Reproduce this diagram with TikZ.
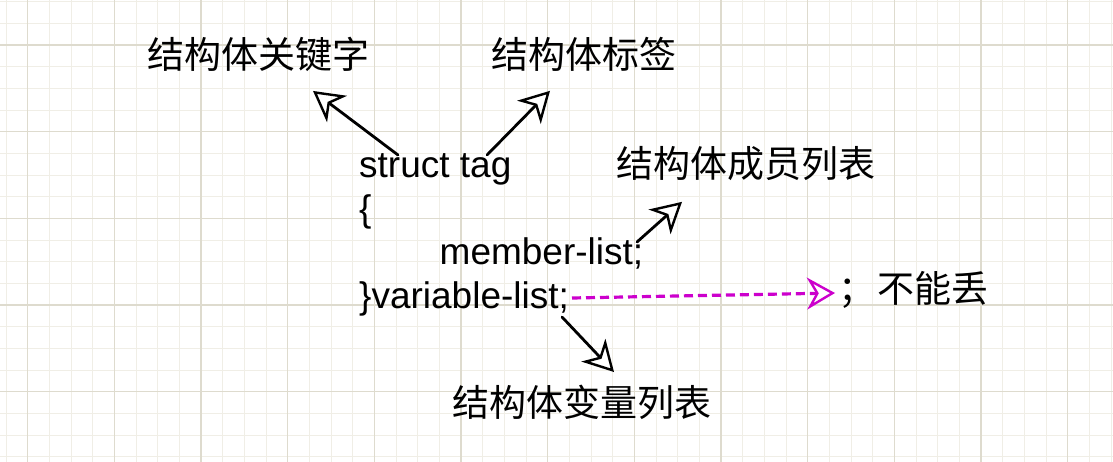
\documentclass[tikz,border=0pt]{standalone}
\usepackage{fontspec}
\setmainfont{Liberation Sans}
\newfontfamily\cjk{Noto Sans CJK SC}
\usetikzlibrary{arrows.meta,calc,positioning}

\definecolor{minorgrid}{RGB}{240,238,230}
\definecolor{majorgrid}{RGB}{222,219,206}
\definecolor{dropmag}{RGB}{204,0,204}

\newcommand{\codefont}{\fontsize{37}{43}\selectfont}
\newcommand{\labfont}{\cjk\fontsize{37}{43}\selectfont}

\tikzset{
  codeline/.style={anchor=base west, inner sep=0pt, font=\codefont},
  cnlabel/.style={inner sep=0pt, font=\labfont},
  sketcharr/.style={line width=2.8pt, line cap=round,
    -{Stealth[open, length=30pt, width=33pt, inset=9pt, line width=2.4pt]}},
  dasharr/.style={line width=3.2pt, dropmag, dash pattern=on 9pt off 5pt,
    -{Stealth[open, length=28pt, width=32pt, inset=9pt, line width=2.4pt]}}
}

\begin{document}
\begin{tikzpicture}[x=1pt,y=-1pt]

% ================= BACKGROUND: GRID =================
\fill[white] (0,0) rectangle (1113,462);
\useasboundingbox (0,0) rectangle (1113,462);

\foreach \i in {0,...,51}
  \draw[minorgrid, line width=1pt] ({6+21.667*\i},0) -- ({6+21.667*\i},462);
\foreach \j in {0,...,21}
  \draw[minorgrid, line width=1pt] (0,{1.67+21.667*\j}) -- (1113,{1.67+21.667*\j});
\foreach \i in {0,...,12}
  \draw[majorgrid, line width=1.2pt] ({27.7+86.667*\i},0) -- ({27.7+86.667*\i},462);
\foreach \j in {0,...,5}
  \draw[majorgrid, line width=1.2pt] (0,{45+86.667*\j}) -- (1113,{45+86.667*\j});

% ================= CODE =================
\node[codeline] (tag) at (359,178) {struct tag};
\node[codeline] (lbrace) at (359,221.5) {\{};
\node[codeline] (member) at (439.5,265) {member-list;};
\node[codeline] (varlist) at (359,308.5) {\}variable-list;};

% ================= LABELS =================
\node[cnlabel] (kw) at (258.5,54.5) {结构体关键字};
\node[cnlabel] (taglab) at (584,54.5) {结构体标签};
\node[cnlabel] (memlab) at (746,164) {结构体成员列表};
\node[cnlabel] (varlab) at (581.5,402) {结构体变量列表};
\node[cnlabel, anchor=west] (lose) at (838,290) {；\kern2pt 不能丢};

% ================= ARROWS =================
\draw[sketcharr] ($(tag.base west)+(39,-23)$) -- ($(kw.south)+(54.5,19)$);
\draw[sketcharr] ($(tag.base west)+(128,-23)$) -- ($(taglab.south)+(-34,19)$);
\draw[sketcharr] ($(member.base west)+(197.5,-23)$) -- ($(memlab.south)+(-64,20.5)$);
\draw[sketcharr] ($(varlist.base west)+(203,8.5)$) -- ($(varlab.north)+(32.5,-12.5)$);
\draw[dasharr] ($(varlist.base west)+(213,-10.5)$) -- ($(lose.west)+(-3,3)$);

\end{tikzpicture}
\end{document}
